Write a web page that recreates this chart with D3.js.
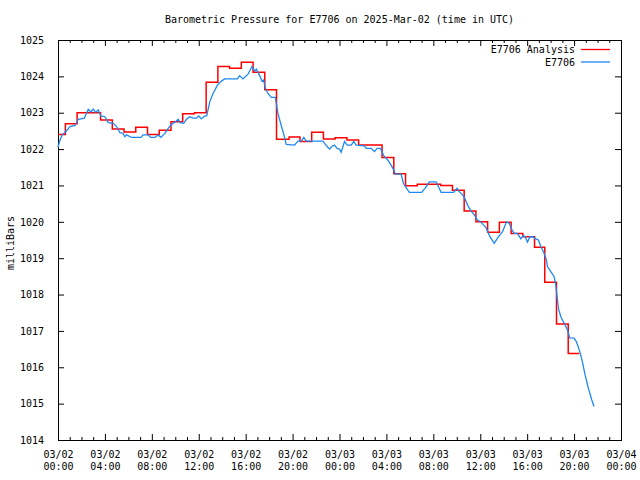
<!DOCTYPE html>
<html><head><meta charset="utf-8">
<script src="https://cdn.jsdelivr.net/npm/d3@7"></script>
<style>
body{margin:0;background:#fff}
text{font-family:"DejaVu Sans Mono","Liberation Mono",monospace;font-size:10px;fill:#000}
</style>
</head><body><svg id="c" width="640" height="480"></svg>
<script>
const titleText = "Barometric Pressure for E7706 on 2025-Mar-02 (time in UTC)";
const yAxisLabel = "milliBars";
const seriesNames = ["E7706 Analysis", "E7706"];
const seriesColors = ["#ff0000", "#1e88f5"];
const yTicks = [1014,1015,1016,1017,1018,1019,1020,1021,1022,1023,1024,1025];
const xTickHours = [0,4,8,12,16,20,24,28,32,36,40,44,48];
const xTickDates = ["03/02","03/02","03/02","03/02","03/02","03/02","03/03","03/03","03/03","03/03","03/03","03/03","03/04"];
const xTickTimes = ["00:00","04:00","08:00","12:00","16:00","20:00","00:00","04:00","08:00","12:00","16:00","20:00","00:00"];
const xMinorHours = [1,2,3,5,6,7,9,10,11,13,14,15,17,18,19,21,22,23,25,26,27,29,30,31,33,34,35,37,38,39,41,42,43,45,46,47];

// Analysis (hourly, drawn as steps); hour at which each step begins
const analysisHours = [0,0.63,1.63,2.63,3.63,4.63,5.63,6.63,7.63,8.63,9.63,10.63,11.63,12.63,13.63,14.63,15.63,16.63,17.63,18.63,19.7,20.63,21.63,22.63,23.63,24.63,25.63,26.63,27.63,28.63,29.63,30.63,31.63,32.63,33.63,34.63,35.63,36.63,37.63,38.63,39.63,40.63,41.5,42.5,43.5,44.45];
const analysisValues = [1022.4,1022.7,1023.0,1023.0,1022.8,1022.55,1022.47,1022.6,1022.4,1022.52,1022.75,1022.97,1023.0,1023.84,1024.27,1024.22,1024.39,1024.11,1023.63,1022.27,1022.33,1022.21,1022.46,1022.28,1022.31,1022.25,1022.11,1022.11,1021.77,1021.32,1020.99,1021.03,1021.03,1021.0,1020.87,1020.3,1020.0,1019.71,1019.99,1019.68,1019.59,1019.3,1018.34,1017.19,1016.38,1016.38];

// Observations
const obsHours = [0,0.17,0.37,0.74,1.02,1.45,1.73,2.24,2.58,2.81,3.0,3.21,3.43,3.66,4.0,4.28,4.71,5.0,5.28,5.56,5.7,5.85,6.27,7.06,7.26,7.69,7.89,8.26,8.54,8.77,9.11,9.39,9.68,10.02,10.24,10.41,10.72,10.95,11.23,11.51,11.8,12.0,12.23,12.51,12.68,12.94,13.22,13.59,13.93,14.21,15.29,15.49,15.77,16.2,16.54,16.77,16.91,17.19,17.39,17.53,17.68,17.9,18.19,18.53,18.75,18.98,19.26,19.46,20.17,20.45,20.74,20.96,21.17,22.58,22.95,23.15,23.34,23.57,23.8,24.0,24.14,24.43,24.66,25.0,25.22,25.42,26.13,26.27,26.7,26.98,27.21,27.49,27.77,28.11,28.4,28.62,28.77,29.25,29.45,29.68,29.96,31.0,31.29,31.66,32.23,32.43,32.66,33.73,34.02,34.21,34.49,34.7,34.92,35.21,35.49,35.77,36.06,36.49,36.83,37.19,37.47,37.9,38.24,38.47,38.7,38.89,39.17,39.46,39.66,39.83,40.03,40.23,40.45,40.74,40.96,41.17,41.45,41.64,41.73,42.02,42.3,42.44,42.53,42.66,42.87,43.15,43.43,43.63,44.0,44.2,44.49,44.71,44.94,45.22,45.51,45.7];
const obsValues = [1022.05,1022.25,1022.39,1022.51,1022.62,1022.65,1022.82,1022.85,1023.09,1023.02,1023.1,1023.01,1023.08,1022.91,1022.89,1022.73,1022.71,1022.62,1022.45,1022.43,1022.34,1022.39,1022.32,1022.32,1022.39,1022.39,1022.32,1022.32,1022.39,1022.32,1022.43,1022.57,1022.68,1022.75,1022.82,1022.73,1022.71,1022.82,1022.89,1022.85,1022.85,1022.91,1022.83,1022.91,1022.92,1023.3,1023.53,1023.76,1023.87,1023.93,1023.93,1024.02,1023.93,1024.06,1024.27,1024.15,1024.2,1024.02,1023.87,1023.9,1023.67,1023.53,1023.42,1023.42,1022.98,1022.71,1022.39,1022.13,1022.11,1022.22,1022.22,1022.32,1022.22,1022.22,1022.07,1022.0,1022.07,1022.11,1022.02,1022.0,1021.91,1022.21,1022.11,1022.11,1022.21,1022.11,1022.09,1022.02,1022.02,1021.93,1022.02,1022.02,1021.82,1021.7,1021.56,1021.43,1021.31,1021.31,1021.06,1020.94,1020.81,1020.81,1020.92,1021.1,1021.1,1020.97,1020.81,1020.81,1020.92,1020.83,1020.74,1020.63,1020.46,1020.3,1020.19,1020.05,1019.99,1019.84,1019.59,1019.41,1019.55,1019.73,1020.0,1019.96,1019.78,1019.68,1019.68,1019.53,1019.62,1019.59,1019.44,1019.59,1019.59,1019.53,1019.5,1019.32,1019.13,1018.95,1018.77,1018.63,1018.49,1018.26,1017.99,1017.62,1017.39,1017.21,1017.03,1016.81,1016.8,1016.7,1016.43,1016.15,1015.79,1015.42,1015.1,1014.92];

const svg = d3.select("#c");
const L = 58, R = 621, T = 40, B = 440;
const x = d3.scaleLinear().domain([0, 48]).range([L, R]);
const y = d3.scaleLinear().domain([1014, 1025]).range([B, T]);

svg.append("rect").attr("width", 640).attr("height", 480).attr("fill", "#fff");

// axes (ticks inward, mirrored)
function styleAxis(g){ g.select(".domain").remove(); g.selectAll("line").attr("stroke","#000"); }
svg.append("g").attr("transform",`translate(0,${B})`)
  .call(d3.axisBottom(x).tickValues(xTickHours).tickSizeInner(-6).tickSizeOuter(0).tickFormat("")).call(styleAxis);
svg.append("g").attr("transform",`translate(0,${T})`)
  .call(d3.axisTop(x).tickValues(xTickHours).tickSizeInner(-6).tickSizeOuter(0).tickFormat("")).call(styleAxis);
svg.append("g").attr("transform",`translate(0,${B})`)
  .call(d3.axisBottom(x).tickValues(xMinorHours).tickSizeInner(-3).tickSizeOuter(0).tickFormat("")).call(styleAxis);
svg.append("g").attr("transform",`translate(0,${T})`)
  .call(d3.axisTop(x).tickValues(xMinorHours).tickSizeInner(-3).tickSizeOuter(0).tickFormat("")).call(styleAxis);
svg.append("g").attr("transform",`translate(${L},0)`)
  .call(d3.axisLeft(y).tickValues(yTicks).tickSizeInner(-6).tickSizeOuter(0).tickPadding(14).tickFormat(d3.format("d")))
  .call(styleAxis)
  .call(g => g.selectAll("text").attr("fill","#000").style("font-family",null).style("font-size",null).attr("font-family",null).attr("font-size",null));
svg.append("g").attr("transform",`translate(${R},0)`)
  .call(d3.axisRight(y).tickValues(yTicks).tickSizeInner(-6).tickSizeOuter(0).tickFormat("")).call(styleAxis);
svg.selectAll("g").attr("font-family", null).attr("font-size", null);

// frame
svg.append("rect").attr("x", L + 0.5).attr("y", T + 0.5).attr("width", R - L).attr("height", B - T)
  .attr("fill", "none").attr("stroke", "#000");

// x tick labels (two lines)
const xl = svg.append("g");
xTickHours.forEach((h, i) => {
  const t = xl.append("text").attr("text-anchor", "middle").attr("x", x(h) + 0.5);
  t.append("tspan").attr("x", x(h) + 0.5).attr("y", 457.5).text(xTickDates[i]);
  t.append("tspan").attr("x", x(h) + 0.5).attr("y", 469.5).text(xTickTimes[i]);
});

// title and y label
svg.append("text").attr("x", 339.5).attr("y", 22.5).attr("text-anchor", "middle").text(titleText);
svg.append("text").attr("transform", "translate(13.5,243) rotate(-90)").attr("text-anchor", "middle").text(yAxisLabel);

// series
const analysis = analysisHours.map((h, i) => [h, analysisValues[i]]);
const obs = obsHours.map((h, i) => [h, obsValues[i]]);
svg.append("path").datum(analysis).attr("fill", "none").attr("stroke", seriesColors[0]).attr("stroke-width", 1.5)
  .attr("d", d3.line().x(d => x(d[0])).y(d => y(d[1])).curve(d3.curveStepAfter));
svg.append("path").datum(obs).attr("fill", "none").attr("stroke", seriesColors[1]).attr("stroke-width", 1.3)
  .attr("d", d3.line().x(d => x(d[0])).y(d => y(d[1])));

// legend
seriesNames.forEach((name, i) => {
  const ly = 49.5 + i * 12.5;
  svg.append("text").attr("x", 575).attr("y", ly + 3.6).attr("text-anchor", "end").text(name);
  svg.append("line").attr("x1", 581).attr("x2", 610).attr("y1", ly).attr("y2", ly)
    .attr("stroke", seriesColors[i]).attr("stroke-width", 1.3);
});
</script>
</body></html>
